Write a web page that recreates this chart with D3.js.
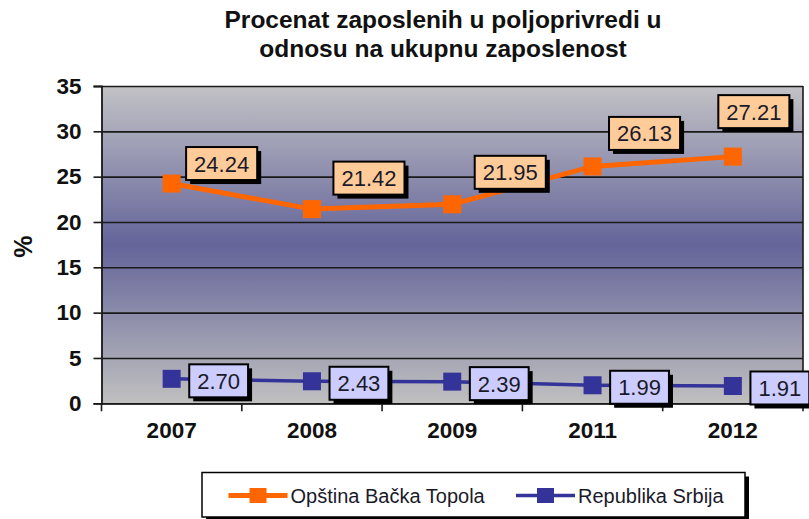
<!DOCTYPE html>
<html>
<head>
<meta charset="utf-8">
<script src="https://cdn.jsdelivr.net/npm/d3@7"></script>
<style>
  html, body { margin: 0; padding: 0; background: #ffffff; }
  svg { display: block; }
  text { font-family: "Liberation Sans", Arial, sans-serif; }
</style>
</head>
<body>
<svg id="chart" width="809" height="519"></svg>
<script>
// ---- data ----
const categories = ["2007", "2008", "2009", "2011", "2012"];
const topolaValues = [24.24, 21.42, 21.95, 26.13, 27.21];
const srbijaValues = [2.70, 2.43, 2.39, 1.99, 1.91];
const yTickValues = [0, 5, 10, 15, 20, 25, 30, 35];
const seriesNames = ["Opština Bačka Topola", "Republika Srbija"];
const titleLines = ["Procenat zaposlenih u poljoprivredi u", "odnosu na ukupnu zaposlenost"];
const yAxisTitle = "%";

// ---- layout / style ----
const W = 809, H = 519;
const plot = { left: 101.5, right: 803, top: 86, bottom: 403.3 };
const orange = "#FF6600", blue = "#333399";
// manual placements of the top series' data labels (offset of label centre from point)
const topolaLabelOffsets = [[50, -20], [57, -31], [58, -32], [52, -33], [21, -45]];
const srbijaLabelOffset = [47, 2];

const svg = d3.select("#chart");

const x = d3.scaleBand().domain(categories).range([plot.left, plot.right]);
const y = d3.scaleLinear().domain([0, 35]).range([plot.bottom, plot.top]);
const cx = d => x(d) + x.bandwidth() / 2;

// gradient background
const defs = svg.append("defs");
const grad = defs.append("linearGradient").attr("id", "bg")
  .attr("x1", 0).attr("y1", 0).attr("x2", 0).attr("y2", 1);
grad.append("stop").attr("offset", "0%").attr("stop-color", "#C2C2C6");
grad.append("stop").attr("offset", "50%").attr("stop-color", "#64649A");
grad.append("stop").attr("offset", "100%").attr("stop-color", "#C0C0C0");

svg.append("rect")
  .attr("x", plot.left).attr("y", plot.top)
  .attr("width", plot.right - plot.left).attr("height", plot.bottom - plot.top)
  .attr("fill", "url(#bg)");

// gridlines
const grid = svg.append("g").attr("transform", `translate(${plot.left},0)`)
  .call(d3.axisLeft(y).tickValues(yTickValues).tickSize(-(plot.right - plot.left)).tickFormat(""));
grid.select(".domain").remove();
grid.selectAll("line").attr("stroke", "#1a1a1a").attr("stroke-width", 1.6);

// right border
svg.append("line").attr("x1", plot.right).attr("x2", plot.right)
  .attr("y1", plot.top).attr("y2", plot.bottom)
  .attr("stroke", "#1a1a1a").attr("stroke-width", 1.6);

// y axis
const yAxis = svg.append("g").attr("transform", `translate(${plot.left},0)`)
  .call(d3.axisLeft(y).tickValues(yTickValues).tickSize(8).tickPadding(12));
yAxis.select(".domain").attr("stroke", "#1a1a1a").attr("stroke-width", 1.8);
yAxis.selectAll(".tick line").attr("stroke", "#1a1a1a").attr("stroke-width", 1.6);
yAxis.selectAll("text")
  .attr("font-size", 22.5).attr("font-weight", "bold").attr("fill", "#111")
  .attr("font-family", "'Liberation Sans', Arial, sans-serif");

// x axis
const xAxis = svg.append("g").attr("transform", `translate(0,${plot.bottom})`)
  .call(d3.axisBottom(x).tickSize(0).tickPadding(0));
xAxis.select(".domain").attr("stroke", "#1a1a1a").attr("stroke-width", 1.8);
xAxis.selectAll("text")
  .attr("y", 35).attr("dy", 0)
  .attr("font-size", 22.5).attr("font-weight", "bold").attr("fill", "#111")
  .attr("font-family", "'Liberation Sans', Arial, sans-serif");
// boundary tick marks
const boundaries = categories.map(c => x(c)).concat([x.range()[1]]);
svg.append("g").selectAll("line").data(boundaries).join("line")
  .attr("x1", d => d).attr("x2", d => d)
  .attr("y1", plot.bottom).attr("y2", plot.bottom + 8)
  .attr("stroke", "#1a1a1a").attr("stroke-width", 1.6);

// y axis title
svg.append("text")
  .attr("transform", `translate(32,${(plot.top + plot.bottom) / 2 + 2}) rotate(-90)`)
  .attr("text-anchor", "middle")
  .attr("font-size", 25).attr("font-weight", "bold").attr("fill", "#111")
  .text(yAxisTitle);

// title
svg.append("g").selectAll("text").data(titleLines).join("text")
  .attr("x", 443).attr("y", (d, i) => 28 + i * 29)
  .attr("text-anchor", "middle")
  .attr("font-size", 24.5).attr("font-weight", "bold").attr("fill", "#111")
  .text(d => d);

// series
const series = [
  { name: seriesNames[0], values: topolaValues, color: orange, width: 5, fill: "#FFCC99",
    offset: i => topolaLabelOffsets[i] },
  { name: seriesNames[1], values: srbijaValues, color: blue, width: 3.5, fill: "#CCCCFF",
    offset: i => srbijaLabelOffset }
];

const line = d3.line().x(d => cx(d.cat)).y(d => y(d.v));

series.forEach(s => {
  const pts = categories.map((c, i) => ({ cat: c, v: s.values[i], i }));
  svg.append("path").datum(pts)
    .attr("d", line).attr("fill", "none")
    .attr("stroke", s.color).attr("stroke-width", s.width);
  svg.append("g").selectAll("rect").data(pts).join("rect")
    .attr("x", d => cx(d.cat) - 9).attr("y", d => y(d.v) - 9)
    .attr("width", 18).attr("height", 18)
    .attr("fill", s.color);
});

// data labels
series.forEach(s => {
  categories.forEach((c, i) => {
    const v = s.values[i];
    const [dx, dy] = s.offset(i);
    const lx = cx(c) + dx, ly = y(v) + dy;
    const g = svg.append("g");
    const t = g.append("text")
      .attr("x", lx).attr("y", ly + 8)
      .attr("text-anchor", "middle")
      .attr("font-size", 22).attr("fill", "#1a1a2a")
      .text(v.toFixed(2));
    const tw = t.node().getComputedTextLength();
    const bw = tw + 16, bh = 33;
    g.insert("rect", "text")
      .attr("x", lx - bw / 2 + 4).attr("y", ly - bh / 2 + 4)
      .attr("width", bw).attr("height", bh).attr("fill", "#000");
    g.insert("rect", "text")
      .attr("x", lx - bw / 2).attr("y", ly - bh / 2)
      .attr("width", bw).attr("height", bh)
      .attr("fill", s.fill).attr("stroke", "#000").attr("stroke-width", 2);
  });
});

// legend
const legend = { left: 202, top: 472.5, right: 745, bottom: 517 };
svg.append("rect")
  .attr("x", legend.left + 4).attr("y", legend.top + 4)
  .attr("width", legend.right - legend.left).attr("height", legend.bottom - legend.top)
  .attr("fill", "#000");
svg.append("rect")
  .attr("x", legend.left).attr("y", legend.top)
  .attr("width", legend.right - legend.left).attr("height", legend.bottom - legend.top)
  .attr("fill", "#fff").attr("stroke", "#000").attr("stroke-width", 1.5);

const legendItems = [
  { s: series[0], x0: 228.5, x1: 287.5 },
  { s: series[1], x0: 516, x1: 575 }
];
const ly = 495.5;
legendItems.forEach(it => {
  svg.append("line").attr("x1", it.x0).attr("x2", it.x1).attr("y1", ly).attr("y2", ly)
    .attr("stroke", it.s.color).attr("stroke-width", it.s.width);
  const mx = (it.x0 + it.x1) / 2;
  svg.append("rect").attr("x", mx - 8.5).attr("y", ly - 7.5).attr("width", 17).attr("height", 15)
    .attr("fill", it.s.color);
  svg.append("text").attr("x", it.x1 + 3).attr("y", ly + 7)
    .attr("font-size", 20).attr("fill", "#1a1a2a")
    .text(it.s.name);
});
</script>
</body>
</html>
